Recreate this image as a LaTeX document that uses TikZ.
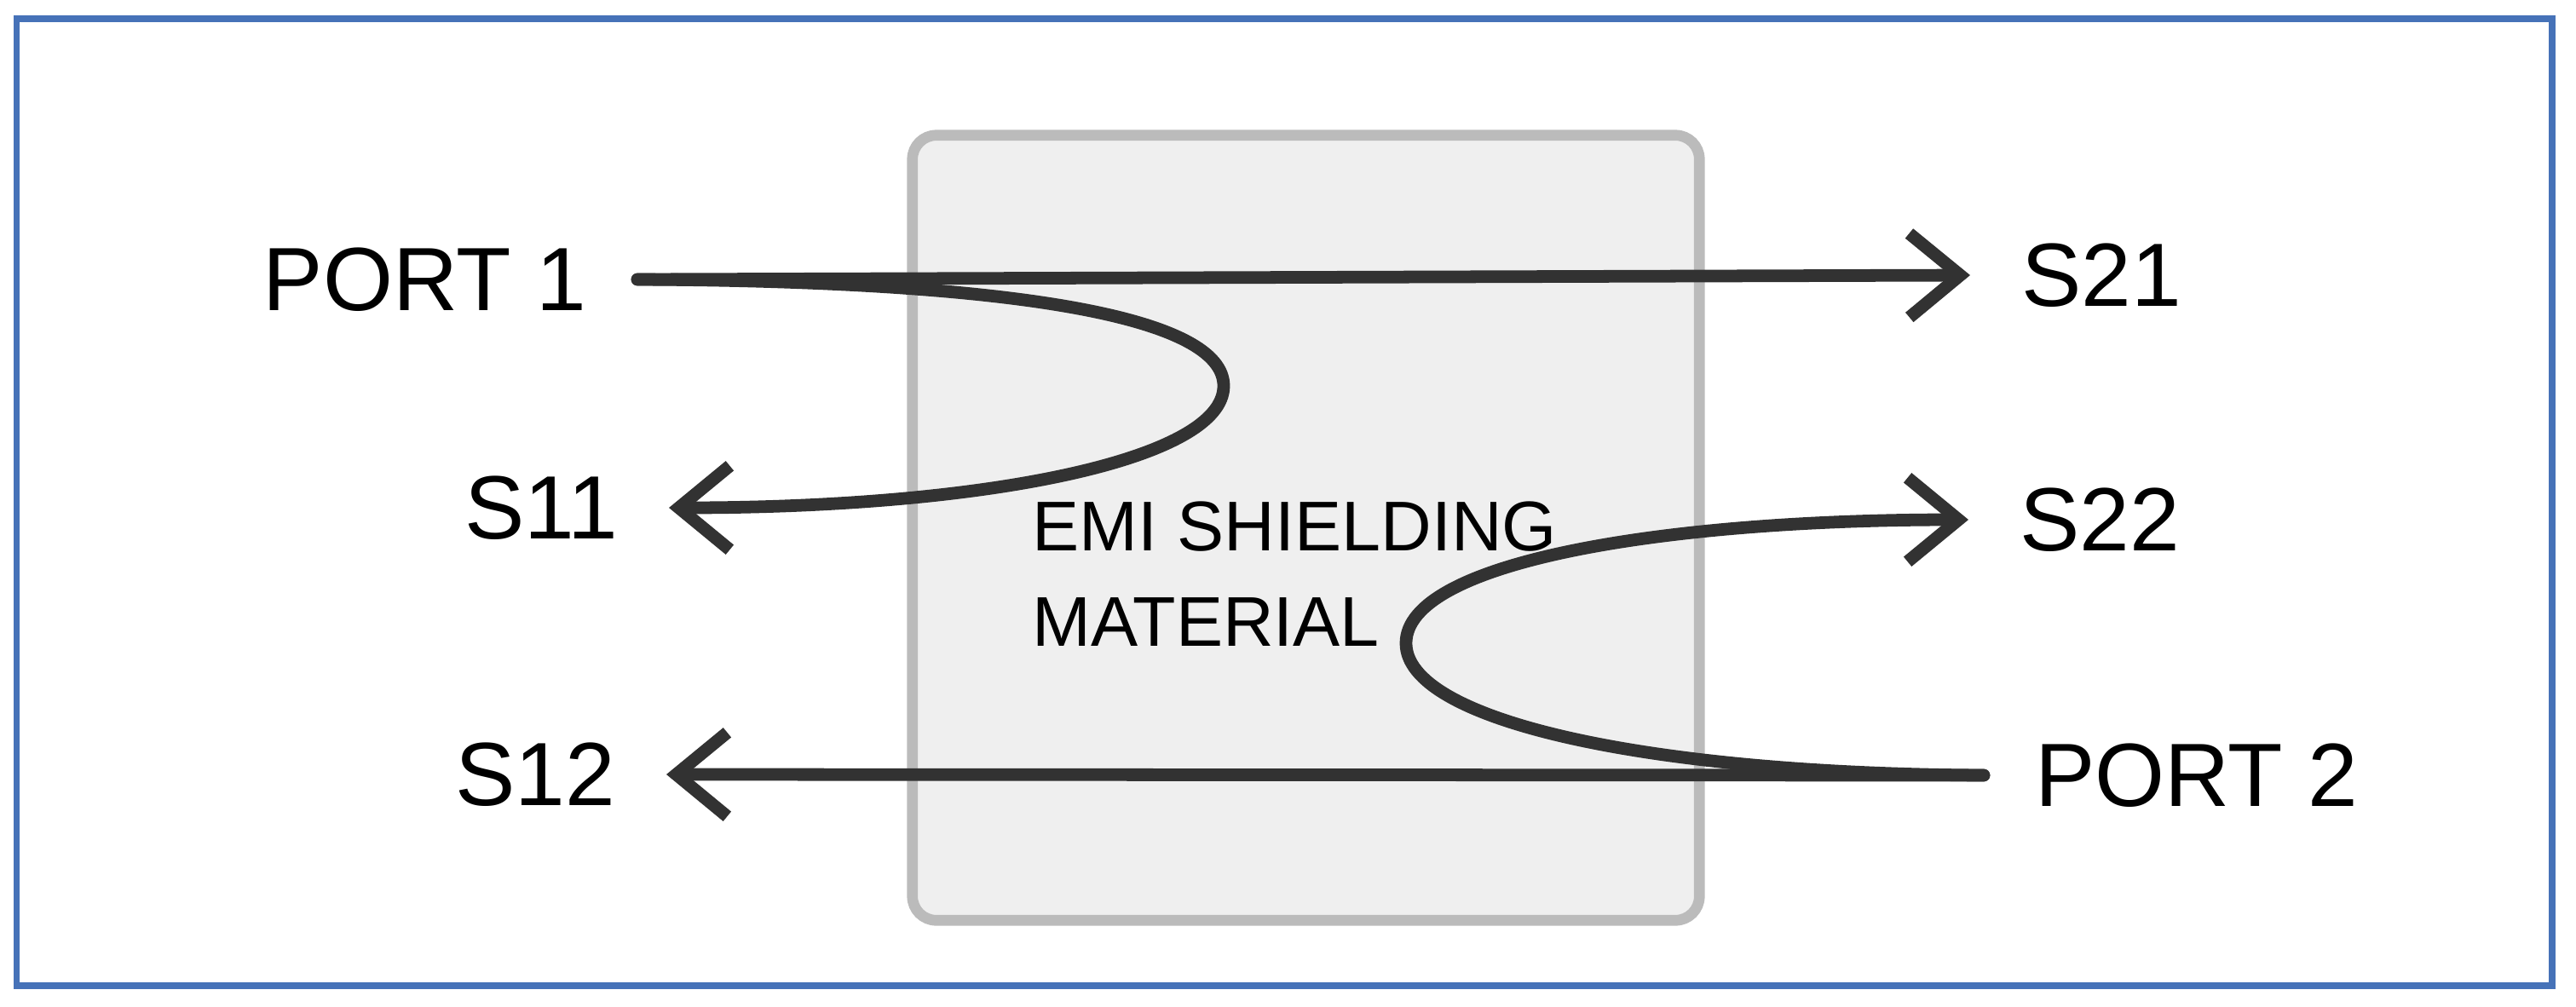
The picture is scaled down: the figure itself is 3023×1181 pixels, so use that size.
\documentclass[tikz,border=0pt]{standalone}
\usepackage{fontspec}
\setmainfont{Liberation Sans}
\usetikzlibrary{arrows.meta}

\definecolor{frameblue}{RGB}{70,114,184}
\definecolor{wavegray}{RGB}{50,50,50}
\definecolor{shieldfill}{RGB}{239,239,239}
\definecolor{shieldedge}{RGB}{187,187,187}

\begin{document}
\begin{tikzpicture}[
    x=0.01cm, y=-0.01cm,
    shield/.style={rectangle, draw=shieldedge, fill=shieldfill, line width=3.6pt,
                   rounded corners=8pt, minimum width=9.23cm, minimum height=9.21cm},
    lbl/.style={inner sep=0pt, outer xsep=0.6cm, outer ysep=0pt,
                font=\fontsize{30}{36}\selectfont},
    wave/.style={draw=wavegray, line width=4.2pt, line cap=round,
                 -{Straight Barb[length=17pt, width=28pt]}},
]

\useasboundingbox (0,0) rectangle (3023,1181);
\draw[frameblue, line width=2.2pt] (19.5,22) rectangle (2995,1157);

\node[shield] (mat) at (1532.5,619.5) {};
\node[inner sep=0pt, anchor=north west, align=left,
      font=\fontsize{23.5}{32}\selectfont] (matlbl) at (1211,588)
      {EMI SHIELDING\\MATERIAL};

\node[lbl, anchor=east] (p1) at (748,328) {PORT 1};
\node[lbl, anchor=east] (s11) at (785,596) {S11};
\node[lbl, anchor=east] (s12) at (782,909) {S12};
\node[lbl, anchor=west] (s21) at (2312,323) {S21};
\node[lbl, anchor=west] (s22) at (2310,610) {S22};
\node[lbl, anchor=west] (p2) at (2328,910) {PORT 2};

% transmitted and reflected waves
\draw[wave] (p1.east) -- (s21.west);
\draw[wave] (p1.east) .. controls +(450,2) and +(0,-80) .. (1436,453)
                      .. controls +(0,85) and +(380,0) .. (s11.east);
\draw[wave] (p2.west) -- (s12.east);
\draw[wave] (p2.west) .. controls +(-400,-2) and +(0,90) .. (1650,755)
                      .. controls +(0,-95) and +(-360,0) .. (s22.west);

\end{tikzpicture}
\end{document}
